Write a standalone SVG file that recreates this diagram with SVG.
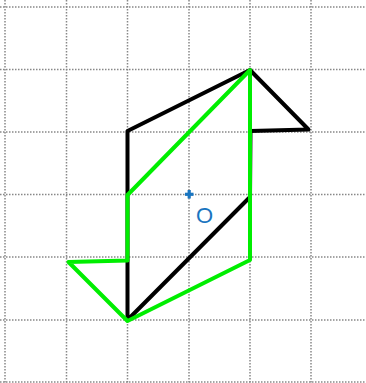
<svg xmlns="http://www.w3.org/2000/svg" width="366" height="383" viewBox="0 0 366 383">
<style>
.grid{stroke:#888;stroke-width:1.5;stroke-dasharray:1.5 1.5;fill:none}
.shape{fill:none;stroke-width:4;stroke-linejoin:round;stroke-linecap:round}
.orig{stroke:#000}
.img{stroke:#00ee00}
.pt{stroke:#1a75c0;stroke-width:3.2}
.lbl{font-family:"Liberation Sans",Arial,sans-serif;font-size:22px;fill:#1a75c0}
</style>
<rect width="366" height="383" fill="#fff"/>
<g id="grid" class="grid">
<line x1="5" y1="0" x2="5" y2="383"/>
<line x1="66.5" y1="0" x2="66.5" y2="383"/>
<line x1="127.5" y1="0" x2="127.5" y2="383"/>
<line x1="189" y1="0" x2="189" y2="383"/>
<line x1="250" y1="0" x2="250" y2="383"/>
<line x1="311" y1="0" x2="311" y2="383"/>
<line x1="0" y1="7" x2="366" y2="7"/>
<line x1="0" y1="69.5" x2="366" y2="69.5"/>
<line x1="0" y1="132" x2="366" y2="132"/>
<line x1="0" y1="194.5" x2="366" y2="194.5"/>
<line x1="0" y1="257" x2="366" y2="257"/>
<line x1="0" y1="320" x2="366" y2="320"/>
<line x1="0" y1="382" x2="366" y2="382"/>
</g>
<g id="original" class="shape orig">
<polygon points="127.5,131 250,70 308.5,129.5 250.5,131 250,197 127.5,320"/>
</g>
<g id="image" class="shape img">
<polygon points="250,70 127.5,195 127.5,260.5 68.5,262 127.5,321 250,260"/>
</g>
<g id="O">
<line class="pt" x1="185" y1="194.3" x2="193.5" y2="194.3"/>
<line class="pt" x1="189.2" y1="190" x2="189.2" y2="198.5"/>
<text class="lbl" x="196" y="222.5">O</text>
</g>
</svg>
